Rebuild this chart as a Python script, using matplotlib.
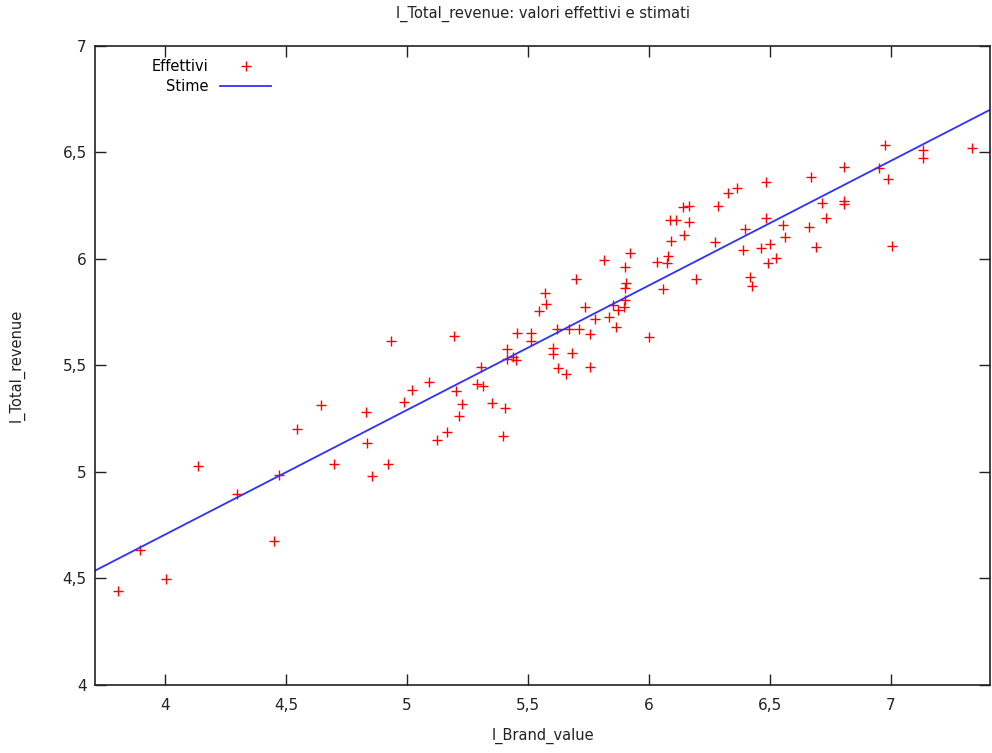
import matplotlib
matplotlib.use("Agg")
import matplotlib.pyplot as plt
from matplotlib.ticker import FuncFormatter, MultipleLocator

# Observed data (l_Brand_value, l_Total_revenue)
brand_value = [
    3.806, 3.897, 4.004, 4.136, 4.298, 4.471, 4.450, 4.545, 4.645, 4.698,
    4.831, 4.835, 4.855, 4.921, 4.934, 4.988, 5.021, 5.091, 5.124, 5.165,
    5.194, 5.202, 5.215, 5.227, 5.289, 5.306, 5.314, 5.351, 5.405, 5.397,
    5.413, 5.413, 5.438, 5.450, 5.455, 5.512, 5.512, 5.545, 5.570, 5.574,
    5.603, 5.603, 5.620, 5.624, 5.657, 5.669, 5.682, 5.698, 5.711, 5.736,
    5.756, 5.756, 5.777, 5.814, 5.835, 5.851, 5.864, 5.872, 5.897, 5.901,
    5.901, 5.905, 5.901, 5.921, 6.000, 6.033, 6.058, 6.074, 6.079, 6.091,
    6.087, 6.112, 6.145, 6.165, 6.140, 6.165, 6.194, 6.273, 6.285, 6.326,
    6.364, 6.388, 6.397, 6.417, 6.426, 6.463, 6.483, 6.483, 6.500, 6.492,
    6.525, 6.554, 6.562, 6.661, 6.669, 6.690, 6.715, 6.731, 6.806, 6.806,
    6.806, 6.950, 6.975, 6.988, 7.004, 7.132, 7.132, 7.335,
]
total_revenue = [
    4.441, 4.634, 4.498, 5.028, 4.897, 4.986, 4.676, 5.202, 5.315, 5.038,
    5.282, 5.136, 4.981, 5.038, 5.615, 5.329, 5.385, 5.423, 5.150, 5.188,
    5.638, 5.380, 5.263, 5.319, 5.413, 5.493, 5.404, 5.324, 5.300, 5.169,
    5.577, 5.531, 5.540, 5.526, 5.653, 5.653, 5.615, 5.756, 5.840, 5.789,
    5.582, 5.554, 5.671, 5.488, 5.460, 5.671, 5.559, 5.906, 5.671, 5.775,
    5.493, 5.648, 5.718, 5.995, 5.728, 5.784, 5.681, 5.761, 5.775, 5.808,
    5.864, 5.887, 5.962, 6.028, 5.634, 5.986, 5.859, 5.981, 6.014, 6.085,
    6.183, 6.183, 6.113, 6.174, 6.244, 6.249, 5.906, 6.080, 6.249, 6.310,
    6.333, 6.042, 6.141, 5.915, 5.873, 6.052, 6.192, 6.362, 6.070, 5.981,
    6.005, 6.160, 6.103, 6.150, 6.385, 6.056, 6.263, 6.192, 6.432, 6.272,
    6.258, 6.427, 6.535, 6.376, 6.061, 6.512, 6.474, 6.521,
]
# Fitted line (Stime)
fit_intercept = 2.366
fit_slope = 0.585

x_limits = (3.711, 7.409)
y_limits = (4.0, 7.0)

fig = plt.figure(figsize=(9.92, 7.53), dpi=100)
ax = fig.add_axes([0.0958, 0.0903, 0.9022, 0.8487])

ax.plot(brand_value, total_revenue, linestyle="none", marker="+",
        color="#ff0000", markersize=7, markeredgewidth=1.0, label="Effettivi")
ax.axline((0, fit_intercept), slope=fit_slope, color="#3030ff",
          linewidth=1.3, label="Stime")

ax.set_xlim(*x_limits)
ax.set_ylim(*y_limits)
ax.xaxis.set_major_locator(MultipleLocator(0.5))
ax.yaxis.set_major_locator(MultipleLocator(0.5))
fmt = FuncFormatter(lambda v, p: ("%g" % v).replace(".", ","))
ax.xaxis.set_major_formatter(fmt)
ax.yaxis.set_major_formatter(fmt)
ax.tick_params(direction="in", length=8, width=1, top=True, right=True,
               labelsize=11, colors="#222222")
ax.tick_params(axis="x", pad=9)
ax.tick_params(axis="y", pad=6)
for s in ax.spines.values():
    s.set_linewidth(1.2)
    s.set_color("#222222")

ax.set_title("l_Total_revenue: valori effettivi e stimati", fontsize=10.5,
             pad=20, color="#222222")
ax.set_xlabel("l_Brand_value", fontsize=10.5, labelpad=11, color="#222222")
ax.set_ylabel("l_Total_revenue", fontsize=10.5, labelpad=27, color="#222222")

leg = ax.legend(loc="upper left", frameon=False, markerfirst=False,
                fontsize=10.5, handlelength=3.5, borderaxespad=0.3,
                bbox_to_anchor=(0.052, 0.995), labelspacing=0.3)

fig.savefig("out.png", dpi=100)
